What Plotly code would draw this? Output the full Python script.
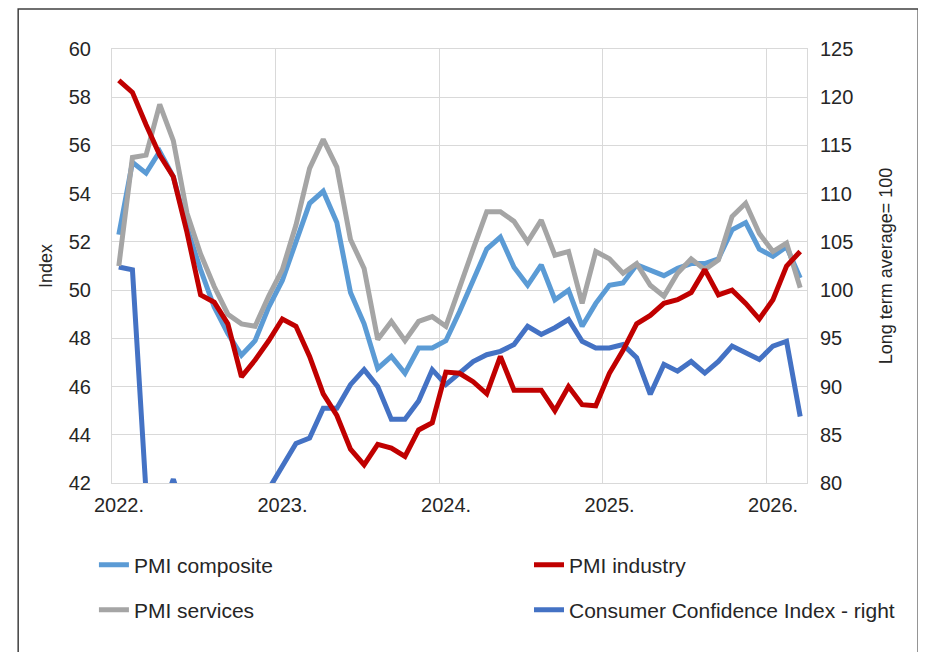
import plotly.graph_objects as go

months = [f"{y}-{m:02d}" for y in range(2022, 2027) for m in range(1, 13)][:51]
month_pos = list(range(len(months)))

tick_labels = ["2022.", "2023.", "2024.", "2025.", "2026."]
tick_pos = [months.index(f"{y}-01") - 0.5 for y in range(2022, 2027)]

pmi_composite = [52.3, 55.3, 54.85, 55.75, 54.7, 52.6, 50.85, 49.3, 48.2, 47.3,
                 47.9, 49.3, 50.4, 51.95, 53.6, 54.1, 52.8, 49.9, 48.6, 46.75,
                 47.25, 46.55, 47.6, 47.6, 47.9, 49.1, 50.4, 51.7, 52.2, 50.95,
                 50.2, 51.05, 49.6, 50.0, 48.5, 49.45, 50.2, 50.3, 51.05, 50.8,
                 50.6, 50.9, 51.1, 51.1, 51.3, 52.5, 52.8, 51.7, 51.4, 51.8, 50.5]

pmi_industry = [58.7, 58.2, 56.86, 55.6, 54.7, 52.4, 49.8, 49.5, 48.6, 46.4,
                47.1, 47.9, 48.8, 48.5, 47.25, 45.7, 44.8, 43.4, 42.75, 43.6,
                43.45, 43.1, 44.2, 44.5, 46.6, 46.55, 46.2, 45.7, 47.25, 45.85,
                45.85, 45.85, 45.0, 46.0, 45.25, 45.2, 46.55, 47.5, 48.6, 48.95,
                49.45, 49.6, 49.9, 50.85, 49.8, 50.0, 49.45, 48.8, 49.6, 51.0, 51.6]

pmi_services = [51.0, 55.5, 55.6, 57.7, 56.2, 53.2, 51.5, 50.15, 49.0, 48.6,
                48.5, 49.75, 50.85, 52.7, 55.05, 56.25, 55.1, 52.1, 50.9, 47.95,
                48.7, 47.9, 48.7, 48.9, 48.5, 50.15, 51.7, 53.25, 53.25, 52.85,
                52.0, 52.9, 51.45, 51.6, 49.45, 51.6, 51.3, 50.7, 51.1, 50.2,
                49.75, 50.7, 51.3, 50.85, 51.25, 53.05, 53.6, 52.35, 51.6, 51.95, 50.1]

consumer_confidence = [102.4, 102.1, 79.0, 76.5, 80.4, 76.0, 74.0, 72.5, 73.0, 74.5,
                       77.0, 79.4, 81.9, 84.1, 84.65, 87.75, 87.75, 90.2, 91.75, 90.0,
                       86.6, 86.6, 88.5, 91.75, 90.2, 91.4, 92.6, 93.3, 93.65, 94.35,
                       96.25, 95.4, 96.1, 96.95, 94.7, 94.0, 94.0, 94.35, 93.0, 89.2,
                       92.3, 91.6, 92.6, 91.4, 92.6, 94.2, 93.5, 92.8, 94.2, 94.7, 86.9]

FONT = "Liberation Sans, Arial, sans-serif"
TXT = "#262626"
GRID = "#D9D9D9"
LW = 5

fig = go.Figure()
fig.add_trace(go.Scatter(x=month_pos, y=consumer_confidence, mode="lines",
                         name="Consumer Confidence Index - right", customdata=months,
                         line=dict(color="#4472C4", width=LW),
                         yaxis="y", legend="legend4"))
fig.add_trace(go.Scatter(x=month_pos, y=pmi_composite, mode="lines", name="PMI composite",
                         customdata=months, line=dict(color="#5B9BD5", width=LW),
                         yaxis="y2", legend="legend"))
fig.add_trace(go.Scatter(x=month_pos, y=pmi_services, mode="lines", name="PMI services",
                         customdata=months, line=dict(color="#A5A5A5", width=LW),
                         yaxis="y2", legend="legend3"))
fig.add_trace(go.Scatter(x=month_pos, y=pmi_industry, mode="lines", name="PMI industry",
                         customdata=months, line=dict(color="#C00000", width=LW),
                         yaxis="y2", legend="legend2"))


def leg(x, y):
    return dict(x=x, y=y, xref="paper", yref="paper", orientation="h",
                xanchor="left", yanchor="middle",
                font=dict(family=FONT, size=21, color=TXT),
                bgcolor="rgba(0,0,0,0)")


# page body has an 8px margin: figure is sized so it fills the 926x652 window
fig.update_layout(
    width=918, height=644,
    margin=dict(l=104, r=119, t=41, b=169, autoexpand=False),
    paper_bgcolor="white", plot_bgcolor="white",
    font=dict(family=FONT, color=TXT),
    showlegend=True,
    legend=leg(-0.026, -0.189),
    legend2=leg(0.600, -0.189),
    legend3=leg(-0.026, -0.293),
    legend4=leg(0.600, -0.293),
    xaxis=dict(range=[-0.5, 50.5],
               tickmode="array", tickvals=tick_pos, ticktext=tick_labels,
               tickangle=0, ticklabelshift=7, ticks="",
               showgrid=True, gridcolor=GRID, gridwidth=1, zeroline=False,
               showline=True, linecolor=GRID, linewidth=1, mirror=True,
               tickfont=dict(family=FONT, size=20, color=TXT),
               ticklabelstandoff=4, anchor="y", automargin=False),
    yaxis=dict(side="right", range=[80, 125], tick0=80, dtick=5,
               showgrid=True, gridcolor=GRID, gridwidth=1, zeroline=False,
               showline=True, linecolor=GRID, linewidth=1, mirror=True,
               ticks="", tickfont=dict(family=FONT, size=20, color=TXT),
               ticklabelstandoff=8, automargin=False,
               title=dict(text="Long term average= 100", standoff=27,
                          font=dict(family=FONT, size=18, color=TXT)),
               anchor="x"),
    yaxis2=dict(side="left", overlaying="y", range=[42, 60], tick0=42, dtick=2,
                showgrid=False, zeroline=False, ticks="",
                tickfont=dict(family=FONT, size=20, color=TXT),
                ticklabelstandoff=20, automargin=False,
                title=dict(text="Index", standoff=11,
                           font=dict(family=FONT, size=18, color=TXT)),
                anchor="x"),
    shapes=[dict(type="rect", xref="paper", yref="paper",
                 x0=-0.135, x1=1.16, y0=-0.41, y1=1.092,
                 line=dict(color="#404040", width=1.5), layer="below")],
)

fig.write_html("out.html")
